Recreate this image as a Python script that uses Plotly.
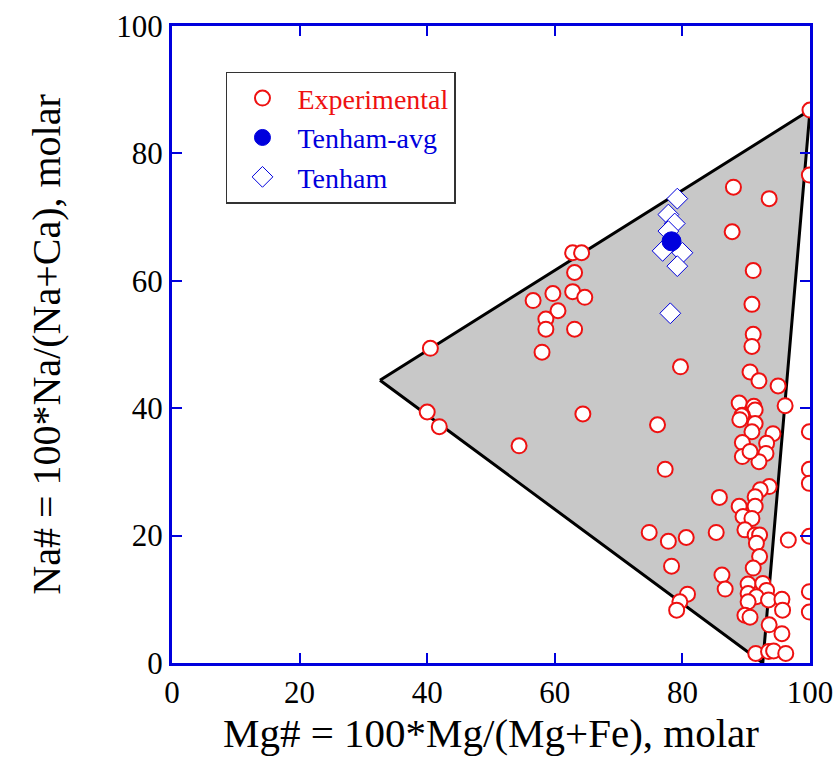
import plotly.graph_objects as go

# Field boundary (triangle)
tri_x = [32.6, 100.0, 92.6, 32.6]
tri_y = [44.4, 86.8, 0.0, 44.4]

# Experimental data (Mg#, Na#)
exp_x = [100.0, 99.9, 88.0, 93.6, 87.8, 91.1, 90.9, 91.1, 90.9, 79.7, 90.6, 92.0, 95.0, 96.1,
         88.9, 91.2, 91.4, 89.4, 76.1,
         62.8, 64.2, 63.1, 59.7, 62.8, 64.7, 56.6, 60.5, 58.6, 58.6, 63.1, 58.0, 40.5, 40.0,
         41.9, 64.4, 54.4,
         89.3, 89.0, 91.4, 90.9, 94.2, 99.9, 93.2, 89.4, 93.1, 89.4, 92.0, 90.6, 77.3, 99.9,
         99.9, 93.6, 92.2, 91.4, 91.4, 85.8, 88.9, 89.5, 90.9, 89.8, 91.4, 92.1, 91.6, 92.1,
         91.1, 74.8, 77.8, 80.6, 85.3, 96.6, 99.9, 78.3, 86.2, 86.7, 90.3, 92.6, 93.2, 90.3,
         91.6, 93.5, 95.6, 95.7, 90.3, 89.8, 90.6, 80.8, 79.6, 79.1, 93.6, 95.6, 99.9, 99.9,
         91.5, 93.5, 94.3, 96.2]
exp_y = [86.8, 76.6, 74.7, 72.9, 67.7, 61.6, 56.3, 51.6, 49.7, 46.5, 45.7, 44.3, 43.5, 40.4,
         40.8, 40.3, 39.7, 38.9, 37.4,
         64.4, 64.4, 61.3, 58.0, 58.3, 57.4, 56.9, 55.3, 54.0, 52.4, 52.4, 48.8, 49.4, 39.4,
         37.1, 39.1, 34.1,
         38.8, 38.2, 37.6, 36.3, 36.0, 36.3, 34.5, 34.6, 32.9, 32.4, 31.6, 33.2, 30.4, 30.4,
         28.2, 27.7, 27.2, 26.1, 24.6, 26.0, 24.6, 23.0, 22.7, 20.9, 20.1, 20.1, 18.8, 16.7,
         14.9, 20.5, 19.1, 19.7, 20.5, 19.3, 19.9, 15.2, 13.8, 11.6, 12.4, 12.5, 11.4, 10.9,
         10.4, 9.9, 10.0, 8.3, 9.6, 7.5, 7.2, 10.8, 9.6, 8.3, 6.0, 4.6, 11.2, 8.0,
         1.5, 1.8, 1.9, 1.5]

# Tenham meteorite analyses
ten_x = [79.2, 77.8, 78.8, 77.8, 76.9, 80.0, 79.2, 78.1]
ten_y = [72.9, 70.4, 69.0, 67.8, 64.7, 64.4, 62.3, 54.9]

# Tenham average
avg_x = [78.3]
avg_y = [66.2]

legend_labels = ["Experimental", "Tenham-avg", "Tenham"]

RED = "#ee1111"
BLUE = "#0000dd"
FONT = "Liberation Serif"

fig = go.Figure()
fig.add_trace(go.Scatter(x=tri_x, y=tri_y, mode="lines", fill="toself",
                         fillcolor="#c8c8c8", line=dict(color="black", width=3),
                         showlegend=False, hoverinfo="skip"))
fig.add_trace(go.Scatter(x=exp_x, y=exp_y, mode="markers",
                         name=f"<span style='color:{RED}'>{legend_labels[0]}</span>",
                         legendrank=1,
                         marker=dict(symbol="circle", size=15, color="white",
                                     line=dict(color=RED, width=2))))
fig.add_trace(go.Scatter(x=ten_x, y=ten_y, mode="markers",
                         name=f"<span style='color:{BLUE}'>{legend_labels[2]}</span>",
                         legendrank=3,
                         marker=dict(symbol="diamond", size=16, color="white",
                                     line=dict(color=BLUE, width=1))))
fig.add_trace(go.Scatter(x=avg_x, y=avg_y, mode="markers",
                         name=f"<span style='color:{BLUE}'>{legend_labels[1]}</span>",
                         legendrank=2,
                         marker=dict(symbol="circle", size=19, color=BLUE,
                                     line=dict(color=BLUE, width=1))))

axis_common = dict(range=[0, 100], dtick=20, showline=True, linecolor=BLUE, linewidth=3,
                   mirror="ticks", ticks="inside", ticklen=10, tickcolor=BLUE, tickwidth=1.5,
                   showgrid=False, zeroline=False, automargin=False,
                   tickfont=dict(family=FONT, size=31, color="black"))

fig.update_layout(
    width=838, height=769,
    margin=dict(l=172, r=28, t=26, b=106),
    plot_bgcolor="white", paper_bgcolor="white",
    font=dict(family=FONT, color="black"),
    showlegend=True,
    legend=dict(x=0.0846, y=0.928, xanchor="left", yanchor="top",
                bgcolor="#ffffff", bordercolor="#333333", borderwidth=1.5,
                font=dict(family=FONT, size=28), tracegroupgap=0,
                itemsizing="trace", itemwidth=60),
    xaxis=dict(**axis_common,
               title=dict(text="Mg# = 100*Mg/(Mg+Fe), molar",
                          font=dict(family=FONT, size=41), standoff=4)),
    yaxis=dict(**axis_common,
               title=dict(text="Na# = 100*Na/(Na+Ca), molar",
                          font=dict(family=FONT, size=40), standoff=44)),
)

fig.write_html("out.html")
